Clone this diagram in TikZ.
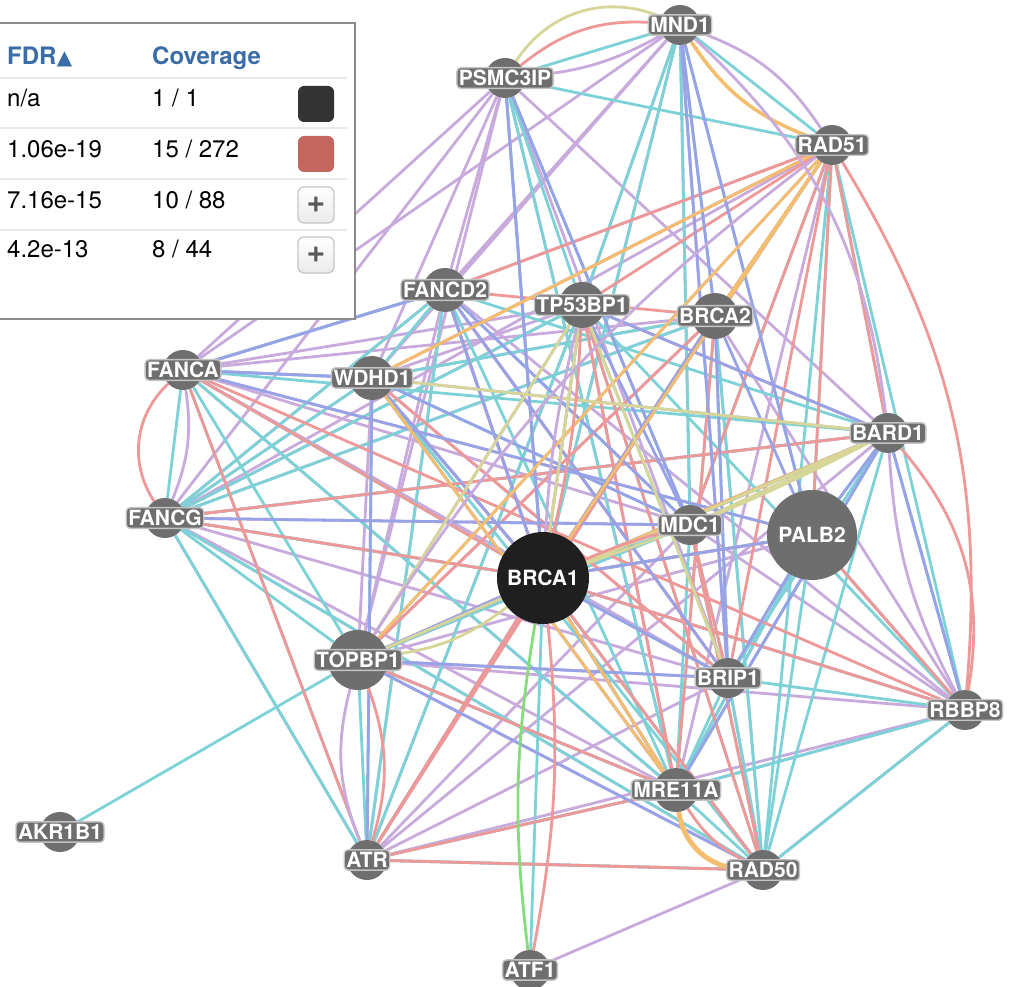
\documentclass[tikz,border=0pt]{standalone}
\usepackage{fontspec}
\setmainfont{TeX Gyre Heros}
\newfontfamily\symfont{DejaVu Sans}
\usetikzlibrary{backgrounds}
\definecolor{purp}{HTML}{C8AADC}
\definecolor{cyan}{HTML}{7CD2D7}
\definecolor{rose}{HTML}{EE9898}
\definecolor{blue}{HTML}{98A2E6}
\definecolor{orng}{HTML}{F5BE6E}
\definecolor{olive}{HTML}{D6D698}
\definecolor{grn}{HTML}{84DC7A}
\definecolor{nodegray}{HTML}{6E6E6E}
\definecolor{halo}{HTML}{C4C4C4}
\definecolor{head}{HTML}{3A6DA8}
\definecolor{swred}{HTML}{C5665E}
\tikzset{
  gene/.style={circle, fill=nodegray, minimum size=40pt, inner sep=0pt},
  tag/.style={fill=nodegray, draw=halo, line width=1.4pt, rounded corners=4pt, text=white,
    font=\fontsize{21}{21}\selectfont\bfseries, inner xsep=2pt, inner ysep=2.5pt},
  link/.style={line width=2.8pt},
  legtext/.style={anchor=base west, inner sep=0pt, font=\fontsize{24}{24}\selectfont},
  headtext/.style={legtext, text=head, font=\fontsize{24}{24}\selectfont\bfseries},
  swatch/.style={minimum size=36pt, rounded corners=6pt, inner sep=0pt},
  btn/.style={swatch, draw=halo, line width=1.2pt, top color=white, bottom color=black!8,
    text=black!65, font=\fontsize{32}{32}\selectfont\bfseries},
}
\begin{document}
\begin{tikzpicture}[x=1pt, y=-1pt]
\useasboundingbox (0,0) rectangle (1009,987);

\node[gene, label={[tag]center:MND1}] (mnd) at (680,25) {};
\node[gene, label={[tag]center:PSMC3IP}] (psm) at (505,78) {};
\node[gene, label={[tag]center:RAD51}] (r51) at (832,145) {};
\node[gene, minimum size=44pt, label={[tag]center:FANCD2}] (fd2) at (445,290) {};
\node[gene, minimum size=46pt, label={[tag]center:TP53BP1}] (tp5) at (582,305) {};
\node[gene, minimum size=46pt, label={[tag]center:BRCA2}] (bc2) at (715,316) {};
\node[gene, label={[tag]center:FANCA}] (fna) at (183,370) {};
\node[gene, minimum size=44pt, label={[tag]center:WDHD1}] (wdh) at (372,378) {};
\node[gene, label={[tag]center:BARD1}] (bd1) at (888,433) {};
\node[gene, label={[tag]center:FANCG}] (fng) at (165,518) {};
\node[gene, label={[tag]center:MDC1}] (mdc) at (690,525) {};
\node[gene, minimum size=90pt, text=white, font=\fontsize{21}{21}\selectfont\bfseries] (pal) at (812,535) {PALB2};
\node[gene, minimum size=92pt, fill=black!88, text=white, font=\fontsize{21}{21}\selectfont\bfseries] (bc1) at (543,578) {BRCA1};
\node[gene, minimum size=60pt, label={[tag]center:TOPBP1}] (tpb) at (358,660) {};
\node[gene, label={[tag]center:BRIP1}] (bri) at (728,678) {};
\node[gene, label={[tag]center:RBBP8}] (rbb) at (965,710) {};
\node[gene, minimum size=44pt, label={[tag]center:MRE11A}] (mre) at (676,790) {};
\node[gene, label={[tag]center:AKR1B1}] (akr) at (60,832) {};
\node[gene, label={[tag]center:ATR}] (atr) at (367,860) {};
\node[gene, label={[tag]center:RAD50}] (r50) at (763,870) {};
\node[gene, label={[tag]center:ATF1}] (atf) at (530,970) {};

\begin{scope}[on background layer]
\fill[white] (0,0) rectangle (1009,987);
\foreach \a/\b in {mnd/fd2, mnd/wdh, mnd/fna, mnd/tp5, mnd/bc1, mnd/mdc, mnd/bri,
  psm/fna, psm/fng, psm/wdh, psm/fd2, psm/bc1, psm/tpb, psm/bri, psm/mre, psm/bd1,
  r51/fd2, r51/wdh, r51/fng, r51/tpb, r51/mre,
  fd2/fna, fd2/fng, fd2/bc1, fd2/tpb, fd2/bri, fd2/rbb, fd2/atr,
  tp5/fna, tp5/fng, tp5/wdh, tp5/tpb, tp5/atr, tp5/mre,
  bc2/fna, bc2/fng, bc2/wdh, bc2/tpb, bc2/atr, bc2/rbb, bc2/r50,
  fna/wdh, fna/bc1, fna/mdc, fna/pal, fna/bri, fna/mre,
  wdh/fng, wdh/bd1, wdh/mre, wdh/bri, wdh/tpb,
  bd1/fng, bd1/tpb, bd1/bc1, bd1/atr,
  fng/bc1, fng/mdc, fng/bri, fng/mre, fng/r50, fng/atr,
  mdc/tpb, mdc/atr, mdc/rbb, pal/tpb, pal/rbb, pal/mre,
  bc1/tpb, bc1/atr, bc1/rbb, bc1/r50, bc1/wdh, bc1/bc2, bc1/pal, tpb/bri, tpb/mre, tpb/rbb,
  bri/atr, bri/r50, rbb/mre, rbb/r50, rbb/atr, mre/atr, r50/atr, r50/atf, r50/tpb}
  \draw[link, purp] (\a) -- (\b);
\foreach \a/\b in {mnd/psm, mnd/r51, mnd/tp5, mnd/bc2, mnd/mdc, mnd/bc1, mnd/pal,
  psm/r51, psm/tp5, psm/bc1, psm/mdc, psm/mre,
  r51/bc1, r51/bc2, r51/bd1, r51/pal, r51/mdc, r51/rbb, r51/r50,
  fd2/fna, fd2/wdh, fd2/fng, fd2/bc1, fd2/mdc, fd2/mre, fd2/atr, fd2/bd1,
  tp5/fng, tp5/bc1, tp5/bri, tp5/r50, tp5/atr, tp5/rbb,
  bc2/fng, bc2/bc1, bc2/mre, bc2/bri, bc2/wdh, bc2/r50,
  fna/fng, fna/wdh, fna/bc1, fna/tpb, fna/atr, fna/mre, fna/bd1,
  wdh/fng, wdh/bc1, wdh/atr, wdh/r50, wdh/mdc,
  bd1/bc1, bd1/mre, bd1/rbb, bd1/r50, bd1/pal, bd1/fng, bd1/bri,
  fng/tpb, fng/atr, fng/r50, mdc/mre, mdc/r50, mdc/bri, mdc/tpb, mdc/bc1,
  pal/mre, pal/bri, pal/rbb, pal/r50, pal/bc1,
  bc1/atr, bc1/mre, bc1/atf, bc1/r50, bc1/rbb, bc1/bri, bc1/fng,
  tpb/akr, tpb/atr, tpb/mre, bri/mre, bri/rbb, bri/r50,
  rbb/mre, rbb/r50, mre/r50, mre/atr, atr/r50}
  \draw[link, cyan] (\a) -- (\b);
\foreach \a/\b in {r51/bc2, r51/bd1, r51/tp5, r51/wdh, r51/pal, r51/bc1, r51/mdc, r51/bri, r51/fd2,
  fd2/bc1, fd2/bri, fd2/bc2, tp5/bc1, tp5/mre, tp5/bd1, tp5/r50,
  bc2/bc1, bc2/mre, bc2/tpb, bc2/atr, fna/bc1, fna/atr, fna/rbb,
  wdh/bc1, wdh/bri, bd1/bc1, bd1/tpb, bd1/fng, mdc/bri, mdc/r50, pal/rbb,
  bc1/rbb, bc1/mre, bc1/atr, bc1/r50, bc1/pal, bc1/fng, tpb/mre, tpb/bc1, atr/mre, atr/r50}
  \draw[link, rose] (\a) -- (\b);
\foreach \a/\b in {mnd/bc2, mnd/bri, mnd/pal, psm/bc1, psm/mdc, fd2/fna, fd2/bri, fd2/mdc,
  tp5/bd1, tp5/mdc, bc2/bc1, bc2/bri, bc2/pal, wdh/atr, wdh/bc1, wdh/mre, fna/wdh, fna/pal,
  bd1/pal, bd1/bc1, bd1/tpb, bd1/mre, bd1/rbb, pal/bc1, pal/bri, bc1/bri, bc1/mre, bc1/tpb,
  bc1/fd2, bc1/r51, tpb/bri, tpb/r50, fng/mdc, wdh/mdc}
  \draw[link, blue] (\a) -- (\b);
\foreach \a/\b in {r51/bc1, r51/bc2, r51/tpb, wdh/r51, wdh/mre, bd1/bc1, bc1/mre}
  \draw[link, orng] (\a) -- (\b);
\foreach \a/\b in {tpb/bd1, tp5/bri, bd1/mdc, tpb/tp5, bd1/wdh, bc1/tp5}
  \draw[link, olive] (\a) -- (\b);
\draw[link, purp] (bc1) to[bend left=5] (tp5);
\draw[link, rose] (bc1) to[bend right=5] (tp5);
\draw[link, rose] (bc1) to[bend left=4] (mdc);
\draw[link, olive] (bc1) to[bend right=4] (bd1);
\draw[link, olive] (psm) to[bend left=40] (mnd);
\draw[link, rose] (psm) to[bend left=22] (mnd);
\draw[link, purp] (psm) to[bend right=12] (mnd);
\draw[link, orng, line width=3.5pt] (mnd) to[bend right=18] (r51);
\draw[link, purp] (mnd) to[bend left=18] (r51);
\draw[link, purp] (mnd) to[bend left=20] (bd1);
\draw[link, rose] (fna) to[bend right=40] (fng);
\draw[link, purp] (fna) to[bend left=15] (fng);
\draw[link, rose] (bd1) to[bend left=25] (rbb);
\draw[link, purp] (bd1) to[bend right=12] (rbb);
\draw[link, rose] (r51) to[bend left=18] (rbb);
\draw[link, orng, line width=5pt] (mre) to[bend right=40] (r50);
\draw[link, rose] (mre) to[bend right=15] (r50);
\draw[link, rose] (tpb) to[bend left=18] (atr);
\draw[link, purp] (tpb) to[bend right=18] (atr);
\draw[link, grn] (bc1) to[bend right=8] (atf);
\draw[link, rose] (bc1) to[bend left=8] (atf);
\draw[link, olive] (tpb) to[bend right=15] (bc1);
\draw[link, purp] (tpb) to[bend left=10] (r51);
\end{scope}

\draw[line width=1.5pt, black!45, fill=white] (-5,23) rectangle (355,319);
\foreach \y in {78,128,179,230}
  \draw[line width=1.5pt, black!9] (0,\y) -- (347,\y);
\node[headtext] (fdr) at (7,65) {FDR};
\node[anchor=base west, inner sep=0pt, text=head, font=\symfont\fontsize{20}{20}\selectfont] (tri) at (fdr.base east) {▲};
\node[headtext] (cov) at (152,65) {Coverage};
\node[legtext] (f1) at (7,107) {n/a};
\node[legtext] (c1) at (152,107) {1 / 1};
\node[legtext] (f2) at (7,158) {1.06e-19};
\node[legtext] (c2) at (152,158) {15 / 272};
\node[legtext] (f3) at (7,208) {7.16e-15};
\node[legtext] (c3) at (152,208) {10 / 88};
\node[legtext] (f4) at (7,258) {4.2e-13};
\node[legtext] (c4) at (152,258) {8 / 44};
\node[swatch, fill=black!80] (s1) at (316,104) {};
\node[swatch, fill=swred] (s2) at (316,154) {};
\node[btn] (s3) at (316,205) {+};
\node[btn] (s4) at (316,255) {+};
\end{tikzpicture}
\end{document}
